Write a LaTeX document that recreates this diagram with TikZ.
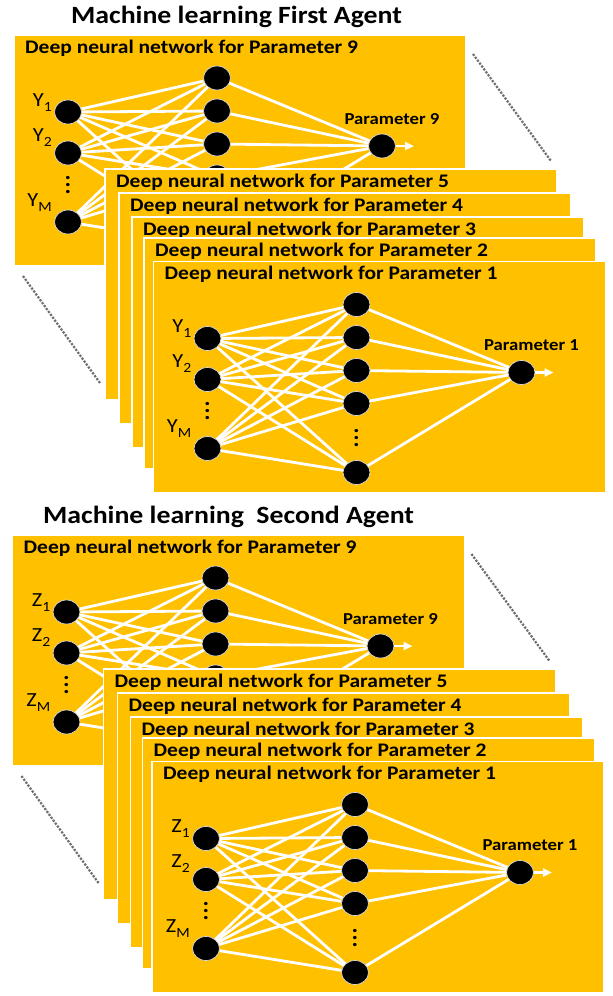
\documentclass[tikz,border=0pt]{standalone}
\usepackage{fontspec}
\setmainfont{Carlito}[FakeStretch=1.12]
\usepackage{xcolor}
\usepackage{tikz}
\usetikzlibrary{arrows.meta,positioning,calc,shapes.geometric}
\definecolor{dnnGold}{HTML}{FFC000}
\definecolor{guideGray}{HTML}{6E6E6E}
\newcommand{\lowidx}[1]{\raisebox{-5pt}{\fontsize{14}{14}\selectfont #1}}
% one card of the stack: name, top-left corner, parameter
\newcommand{\dnncard}[4]{%
  \node[card] (#1) at (#2,#3) {};
  \node[cardhead] (#1head) at ({#2+11},{#3+18}) {Deep neural network for Parameter #4};
}
% the network drawn on a card: name, top-left corner, input letter, parameter
\newcommand{\dnnnet}[5]{%
  \begin{scope}[shift={(#2,#3)}]
    \foreach \i/\y/\s/\d in {1/77/1/6, 2/118/2/12, 3/187/M/16}{
      \node[neuron] (#1in\i) at (54,\y) {};
      \node[inlabel] (#1lab\i) at (38,{\y-\d}) {#4\lowidx{\s}};
    }
    \node[vdotsnode] (#1indots) at (54,150) {.\\.\\.};
    \foreach \b/\y in {1/43, 2/76, 3/109, 4/142, 5/211}{
      \node[neuron] (#1hid\b) at (203,\y) {};
    }
    \node[vdotsnode] (#1hiddots) at (203,177) {.\\.\\.};
    \node[neuron] (#1out) at (368,111) {};
    \node[paramlabel] (#1plab) at (378,89) {Parameter #5};
    \coordinate (#1tip) at (400,111);
    \foreach \a in {1,2,3}{
      \foreach \b in {1,...,5}{
        \draw[wire] (#1in\a) -- (#1hid\b);
      }
    }
    \foreach \b in {1,...,5}{
      \draw[wire] (#1hid\b) -- (#1out);
    }
    \draw[wire,-{Triangle[length=9pt,width=8pt]}] (#1out) -- (#1tip);
  \end{scope}
}
% whole stack of cards for one agent: prefix, input letter
\newcommand{\dnnstack}[2]{%
  \dnncard{#1c9}{14}{35}{9}
  \dnnnet{#1c9}{14}{35}{#2}{9}
  % dotted guides between the back and the front card
  \coordinate (#1gra) at (473,54);
  \coordinate (#1grb) at (551,161);
  \coordinate (#1gla) at (23,276);
  \coordinate (#1glb) at (100,383);
  \draw[guide] (#1gra) -- (#1grb);
  \draw[guide] (#1gla) -- (#1glb);
  \foreach \n/\x/\y in {5/105/169, 4/119/193, 3/132/217, 2/144/238}{
    \dnncard{#1c\n}{\x}{\y}{\n}
  }
  \dnncard{#1c1}{153.5}{261.5}{1}
  \dnnnet{#1c1}{153.5}{261.5}{#2}{1}
}

\begin{document}
\begin{tikzpicture}[x=1pt, y=-1pt, >=Stealth,
  card/.style={rectangle, anchor=north west, minimum width=452pt, minimum height=231pt,
    inner sep=0pt, outer sep=0pt, fill=dnnGold, draw=white, line width=1.2pt},
  cardhead/.style={anchor=base west, inner sep=0pt, font=\bfseries\fontsize{19.2}{22}\selectfont},
  title/.style={anchor=base west, inner sep=0pt, font=\bfseries\fontsize{24.8}{28}\selectfont},
  neuron/.style={ellipse, minimum width=27pt, minimum height=24pt, inner sep=0pt,
    draw=white!85!black, line width=0.7pt, fill=black},
  inlabel/.style={anchor=base east, inner sep=0pt, font=\fontsize{20}{22}\selectfont},
  paramlabel/.style={anchor=base, inner sep=0pt, font=\bfseries\fontsize{16.7}{19}\selectfont},
  vdotsnode/.style={align=center, inner sep=0pt, font=\bfseries\fontsize{22}{7}\selectfont},
  wire/.style={draw=white, line width=2.8pt},
  guide/.style={draw=guideGray, line width=2.2pt, dash pattern=on 2.2pt off 1.4pt}]
\fill[white] (0,0) rectangle (613,996);
\useasboundingbox (0,0) rectangle (613,996);
% ---------- first agent ----------
\node[title] (titleA) at (71,23) {Machine learning First Agent};
\dnnstack{A}{Y}
% ---------- second agent ----------
\node[title] (titleB) at (43,523) {Machine learning\ \ Second Agent};
\begin{scope}[shift={(-1.5,500)}]
  \dnnstack{B}{Z}
\end{scope}
\end{tikzpicture}
\end{document}
